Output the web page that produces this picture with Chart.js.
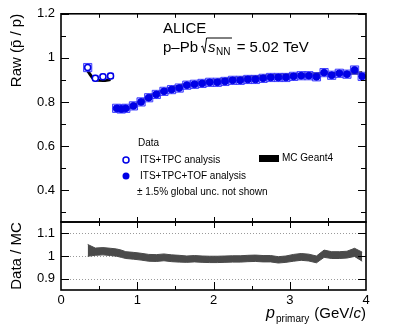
<!DOCTYPE html>
<html lang="en">
<head>
<meta charset="UTF-8">
<title>Raw pbar/p ratio, p-Pb 5.02 TeV</title>
<style>
    html, body { margin: 0; padding: 0; background: #fff; }
    #wrap { position: relative; width: 407px; height: 333px; }
    #wrap canvas { position: absolute; left: 0; top: 0; }
</style>
</head>
<body>
<div id="wrap">
    <canvas id="topPanel" width="407" height="333"></canvas>
    <canvas id="ratioPanel" width="407" height="333"></canvas>
</div>
<script src="https://cdn.jsdelivr.net/npm/chart.js"></script>
<script>
// values
var pTpc = [0.35, 0.45, 0.55, 0.65];
var rawTpc = [0.956, 0.908, 0.914, 0.918];

var pTof = [0.73, 0.79, 0.85, 0.95, 1.05, 1.15, 1.25, 1.35, 1.45, 1.55, 1.65, 1.75,
            1.85, 1.95, 2.05, 2.15, 2.25, 2.35, 2.45, 2.55, 2.65, 2.75, 2.85, 2.95,
            3.05, 3.15, 3.25, 3.35, 3.45, 3.55, 3.65, 3.75, 3.85, 3.95];
var rawTof = [0.771, 0.768, 0.771, 0.782, 0.800, 0.819, 0.834, 0.848, 0.856, 0.863, 0.876, 0.880,
              0.884, 0.889, 0.889, 0.893, 0.898, 0.898, 0.902, 0.902, 0.907, 0.911, 0.911, 0.911,
              0.916, 0.919, 0.919, 0.914, 0.933, 0.921, 0.930, 0.926, 0.945, 0.916];

// MC Geant4 (null breaks the curve between the two analyses)
var pMc = [0.35, 0.45, 0.55, 0.65, 0.69,
           0.73, 0.79, 0.85, 0.95, 1.05, 1.15, 1.25, 1.35, 1.45, 1.55, 1.65, 1.75,
           1.85, 1.95, 2.05, 2.15, 2.25, 2.35, 2.45, 2.55, 2.65, 2.75, 2.85, 2.95,
           3.05, 3.15, 3.25, 3.35, 3.45, 3.55, 3.65, 3.75, 3.85, 3.95];
var rawMc = [0.940, 0.899, 0.897, 0.902, null,
             0.762, 0.763, 0.768, 0.782, 0.803, 0.823, 0.839, 0.852, 0.863, 0.872, 0.879, 0.885,
             0.890, 0.895, 0.899, 0.903, 0.906, 0.909, 0.912, 0.914, 0.917, 0.919, 0.921, 0.923,
             0.924, 0.925, 0.926, 0.927, 0.928, 0.929, 0.930, 0.931, 0.931, 0.932];

// Data / MC
var pRatio = [0.35, 0.45, 0.55, 0.65,
              0.73, 0.79, 0.85, 0.95, 1.05, 1.15, 1.25, 1.35, 1.45, 1.55, 1.65, 1.75,
              1.85, 1.95, 2.05, 2.15, 2.25, 2.35, 2.45, 2.55, 2.65, 2.75, 2.85, 2.95,
              3.05, 3.15, 3.25, 3.35, 3.45, 3.55, 3.65, 3.75, 3.85, 3.95];
var ratio = [1.025, 1.019, 1.021, 1.018,
             1.015, 1.010, 1.004, 1.001, 0.997, 0.992, 0.991, 0.994, 0.990, 0.988, 0.986, 0.988,
             0.986, 0.985, 0.985, 0.986, 0.987, 0.987, 0.989, 0.990, 0.988, 0.988, 0.983, 0.986,
             0.992, 0.996, 0.993, 0.985, 1.010, 1.004, 1.004, 1.006, 1.016, 0.997];
var ratioErr = [0.026, 0.016, 0.016, 0.016,
                0.016, 0.016, 0.015, 0.015, 0.015, 0.015, 0.015, 0.015, 0.015, 0.015, 0.014, 0.014,
                0.014, 0.014, 0.014, 0.014, 0.014, 0.014, 0.014, 0.014, 0.014, 0.014, 0.014, 0.014,
                0.015, 0.015, 0.015, 0.015, 0.016, 0.015, 0.015, 0.015, 0.018, 0.020];

// axis ticks
var rawTicks = [0.4, 0.6, 0.8, 1, 1.2];
var rawMinor = [0.3, 0.5, 0.7, 0.9, 1.1];
var ratioTicks = [0.9, 1, 1.1];
var pTicks = [0, 1, 2, 3, 4];
var pMinor = [0.5, 1.5, 2.5, 3.5];

var FONT = '"Liberation Sans", Arial, Helvetica, sans-serif';
var BLUE = '#0000e6';
var BOX_FILL = 'rgba(120,120,255,0.45)';
var BOX_LINE = 'rgba(50,50,255,0.9)';

Chart.defaults.font.family = FONT;
Chart.defaults.color = '#000';

function pts(xs, ys) {
    return xs.map(function(x, i) { return {x: x, y: ys[i]}; });
}

function framePlugin(cfg) {
    return {
        id: 'frame',
        beforeDatasetsDraw: function(chart) {
            if (!cfg.refLines) return;
            var a = chart.chartArea, ctx = chart.ctx, ys = chart.scales.y;
            ctx.save();
            ctx.strokeStyle = '#9a9a9a';
            ctx.lineWidth = 1;
            ctx.setLineDash([1, 2]);
            cfg.refLines.forEach(function(v) {
                var y = Math.round(ys.getPixelForValue(v)) + 0.5;
                ctx.beginPath();
                ctx.moveTo(a.left, y);
                ctx.lineTo(a.right, y);
                ctx.stroke();
            });
            ctx.restore();
        },
        afterDatasetsDraw: function(chart) {
            var a = chart.chartArea, ctx = chart.ctx;
            var xs = chart.scales.x, ys = chart.scales.y;
            ctx.save();
            ctx.strokeStyle = '#000';
            ctx.lineWidth = 1;
            ctx.beginPath();
            function yt(list, len) {
                list.forEach(function(v) {
                    var y = Math.round(ys.getPixelForValue(v)) + 0.5;
                    ctx.moveTo(a.left, y); ctx.lineTo(a.left + len, y);
                    ctx.moveTo(a.right, y); ctx.lineTo(a.right - len, y);
                });
            }
            function xt(list, lenTop, lenBottom) {
                list.forEach(function(v) {
                    var x = Math.round(xs.getPixelForValue(v)) + 0.5;
                    ctx.moveTo(x, a.top); ctx.lineTo(x, a.top + lenTop);
                    ctx.moveTo(x, a.bottom); ctx.lineTo(x, a.bottom - lenBottom);
                });
            }
            yt(cfg.yMajor, 8);
            if (cfg.yMinor) yt(cfg.yMinor, 5);
            xt(pTicks.slice(1, 4), cfg.xTop, cfg.xBottom);
            xt(pMinor, 4, 4);
            ctx.stroke();
            ctx.lineWidth = 1.6;
            ctx.strokeRect(a.left, a.top, a.right - a.left, a.bottom - a.top);
            ctx.restore();
            if (cfg.text) cfg.text(ctx, a);
        }
    };
}

function drawTopText(ctx) {
    ctx.save();
    ctx.fillStyle = '#000';
    ctx.strokeStyle = '#000';
    ctx.textBaseline = 'alphabetic';
    ctx.textAlign = 'left';
    ctx.font = '15px ' + FONT;
    ctx.fillText('ALICE', 163, 33);

    var x = 163, y = 52;
    ctx.fillText('p\u2013Pb', x, y);
    x += ctx.measureText('p\u2013Pb').width + 3;
    // radical sign
    var x0 = x;
    ctx.font = 'italic 15px ' + FONT;
    var sw = ctx.measureText('s').width;
    ctx.font = '10px ' + FONT;
    var nw = ctx.measureText('NN').width;
    ctx.lineWidth = 1;
    ctx.beginPath();
    ctx.moveTo(x0, y - 5);
    ctx.lineTo(x0 + 1.5, y - 6);
    ctx.lineTo(x0 + 3.5, y + 1);
    ctx.lineTo(x0 + 5.5, y - 14);
    ctx.lineTo(x0 + 7 + sw + nw + 2, y - 14);
    ctx.stroke();
    x = x0 + 7;
    ctx.font = 'italic 15px ' + FONT;
    ctx.fillText('s', x, y);
    x += sw + 0.5;
    ctx.font = '10px ' + FONT;
    ctx.fillText('NN', x, y + 3);
    x += nw + 2;
    ctx.font = '15px ' + FONT;
    ctx.fillText(' = 5.02 TeV', x, y);

    // legend
    ctx.font = '10px ' + FONT;
    ctx.textBaseline = 'middle';
    ctx.fillText('Data', 138, 143);
    ctx.fillText('ITS+TPC analysis', 140, 160);
    ctx.fillText('ITS+TPC+TOF analysis', 140, 176);
    ctx.fillText('\u00b1 1.5% global unc. not shown', 137, 192);
    ctx.fillText('MC Geant4', 282, 158);

    ctx.lineWidth = 1.5;
    ctx.strokeStyle = BLUE;
    ctx.beginPath();
    ctx.arc(126, 160, 3, 0, Math.PI * 2);
    ctx.stroke();
    ctx.fillStyle = BLUE;
    ctx.beginPath();
    ctx.arc(126, 176, 3.5, 0, Math.PI * 2);
    ctx.fill();
    ctx.fillStyle = '#000';
    ctx.fillRect(259, 155, 20, 7);
    ctx.restore();
}

function drawRatioText(ctx, a) {
    ctx.save();
    ctx.fillStyle = '#000';
    ctx.textBaseline = 'alphabetic';
    ctx.textAlign = 'left';
    var y = 318;
    ctx.font = '15px ' + FONT;
    var w1 = ctx.measureText(')').width;
    ctx.font = 'italic 15px ' + FONT;
    var wc = ctx.measureText('c').width;
    ctx.font = '15px ' + FONT;
    var w0 = ctx.measureText('(GeV/').width;
    var x = a.right - w1;
    ctx.fillText(')', x, y);
    x -= wc;
    ctx.font = 'italic 15px ' + FONT;
    ctx.fillText('c', x, y);
    x -= w0;
    ctx.font = '15px ' + FONT;
    ctx.fillText('(GeV/', x, y);
    ctx.font = '10px ' + FONT;
    var ws = ctx.measureText('primary').width;
    x -= ws + 5;
    ctx.fillText('primary', x, y + 4);
    ctx.font = 'italic 16px ' + FONT;
    var wp = ctx.measureText('p').width;
    x -= wp + 1;
    ctx.fillText('p', x, y);
    ctx.restore();
}

// upper panel
new Chart(document.getElementById('topPanel'), {
    type: 'scatter',
    data: {
        datasets: [
            {
                label: 'MC Geant4',
                type: 'line',
                data: pts(pMc, rawMc),
                borderColor: '#000',
                borderWidth: 3,
                pointRadius: 0,
                fill: false,
                spanGaps: false,
                cubicInterpolationMode: 'monotone',
                order: 4
            },
            {
                label: 'ITS+TPC syst',
                data: pts(pTpc, rawTpc),
                pointStyle: 'rect',
                pointRadius: function(c) { return c.dataIndex === 0 ? 5.8 : 4; },
                backgroundColor: BOX_FILL,
                borderColor: BOX_LINE,
                borderWidth: 1,
                order: 3
            },
            {
                label: 'ITS+TPC+TOF syst',
                data: pts(pTof, rawTof),
                pointStyle: 'rect',
                pointRadius: 5.8,
                backgroundColor: BOX_FILL,
                borderColor: BOX_LINE,
                borderWidth: 1,
                order: 3
            },
            {
                label: 'ITS+TPC analysis',
                data: pts(pTpc, rawTpc),
                pointStyle: 'circle',
                pointRadius: 3,
                backgroundColor: '#fff',
                borderColor: BLUE,
                borderWidth: 1.5,
                order: 1
            },
            {
                label: 'ITS+TPC+TOF analysis',
                data: pts(pTof, rawTof),
                pointStyle: 'circle',
                pointRadius: 3.4,
                backgroundColor: BLUE,
                borderColor: BLUE,
                borderWidth: 1,
                order: 1
            }
        ]
    },
    options: {
        responsive: false,
        animation: false,
        events: [],
        layout: { padding: { left: 0, right: 41, top: 9, bottom: 111 } },
        plugins: { legend: { display: false }, tooltip: { enabled: false } },
        scales: {
            x: { type: 'linear', min: 0, max: 4, display: false },
            y: {
                type: 'linear',
                min: 0.255,
                max: 1.2,
                afterFit: function(s) { s.width = 61; },
                afterBuildTicks: function(s) { s.ticks = rawTicks.map(function(v) { return {value: v}; }); },
                grid: { display: false, drawTicks: false },
                border: { display: false },
                ticks: { padding: 6, color: '#000', font: { size: 13 }, callback: function(v) { return String(v); } },
                title: {
                    display: true,
                    text: 'Raw (p\u0304 / p)',
                    align: 'end',
                    color: '#000',
                    font: { size: 15 },
                    padding: { top: 8, bottom: 0 }
                }
            }
        }
    },
    plugins: [framePlugin({ yMajor: rawTicks, yMinor: rawMinor, xTop: 4, xBottom: 5, text: drawTopText })]
});

// ratio panel
var ratioHi = pRatio.map(function(p, i) { return {x: p, y: ratio[i] + ratioErr[i]}; });
var ratioLo = pRatio.map(function(p, i) { return {x: p, y: ratio[i] - ratioErr[i]}; });

new Chart(document.getElementById('ratioPanel'), {
    type: 'line',
    data: {
        datasets: [
            {
                label: 'Data / MC upper',
                data: ratioHi,
                borderColor: '#4a4a4a',
                borderWidth: 1,
                backgroundColor: '#4a4a4a',
                pointRadius: 0,
                fill: '+1'
            },
            {
                label: 'Data / MC lower',
                data: ratioLo,
                borderColor: '#4a4a4a',
                borderWidth: 1,
                pointRadius: 0,
                fill: false
            }
        ]
    },
    options: {
        responsive: false,
        animation: false,
        events: [],
        layout: { padding: { left: 0, right: 41, top: 222, bottom: 0 } },
        plugins: { legend: { display: false }, tooltip: { enabled: false } },
        scales: {
            x: {
                type: 'linear',
                min: 0,
                max: 4,
                afterFit: function(s) { s.height = 43; },
                afterBuildTicks: function(s) { s.ticks = pTicks.map(function(v) { return {value: v}; }); },
                grid: { display: false, drawTicks: false },
                border: { display: false },
                ticks: { padding: 3, color: '#000', font: { size: 13 }, maxRotation: 0 }
            },
            y: {
                type: 'linear',
                min: 0.85,
                max: 1.15,
                afterFit: function(s) { s.width = 61; },
                afterBuildTicks: function(s) { s.ticks = ratioTicks.map(function(v) { return {value: v}; }); },
                grid: { display: false, drawTicks: false },
                border: { display: false },
                ticks: { padding: 6, color: '#000', font: { size: 13 }, callback: function(v) { return String(v); } },
                title: {
                    display: true,
                    text: 'Data / MC',
                    align: 'center',
                    color: '#000',
                    font: { size: 15 },
                    padding: { top: 8, bottom: 0 }
                }
            }
        }
    },
    plugins: [framePlugin({ yMajor: ratioTicks, xTop: 6, xBottom: 8, refLines: ratioTicks, text: drawRatioText })]
});
</script>
</body>
</html>
